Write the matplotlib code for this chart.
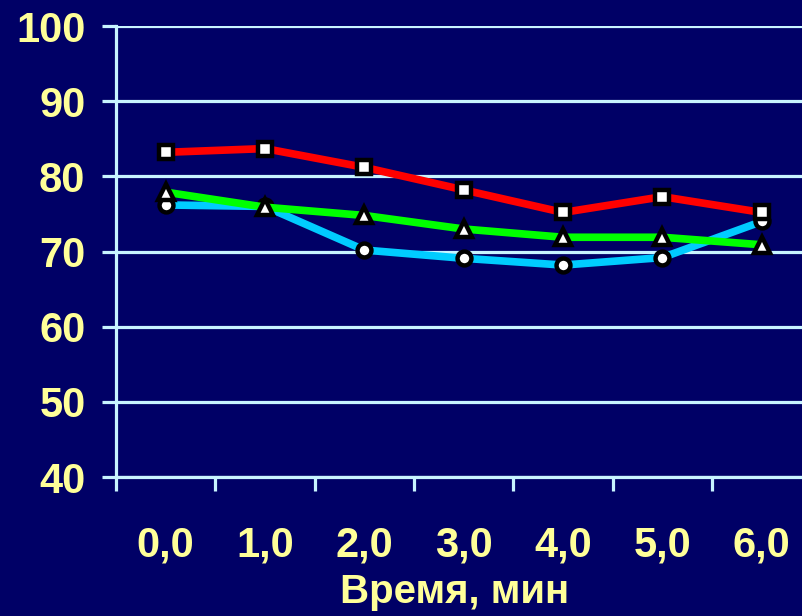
import matplotlib
matplotlib.use('Agg')
import matplotlib.pyplot as plt

# ── data ─────────────────────────────────────────────────────────────────────
categories = ['0,0', '1,0', '2,0', '3,0', '4,0', '5,0', '6,0']
red_vals   = [83.2, 83.7, 81.2, 78.2, 75.2, 77.3, 75.2]
green_vals = [77.9, 75.9, 74.8, 73.0, 71.9, 71.9, 70.9]
cyan_vals  = [76.2, 76.0, 70.2, 69.1, 68.2, 69.2, 74.0]
y_ticks    = [40, 50, 60, 70, 80, 90, 100]

# ── style ────────────────────────────────────────────────────────────────────
BG     = '#000066'
GRID   = '#c8f4ff'
LABEL  = '#ffff99'
plt.rcParams['font.family'] = ['Liberation Sans', 'DejaVu Sans']

fig = plt.figure(figsize=(8.03, 6.16), dpi=100, facecolor=BG)
ax = fig.add_axes([0.1445, 0.2256, 0.866, 0.7321], facecolor=BG)

x = list(range(len(categories)))
series = [
    (cyan_vals,  '#00ccff', 'o', 10),
    (green_vals, '#00ff00', '^', 12),
    (red_vals,   '#ff0000', 's', 10.5),
]
for vals, col, mk, ms in series:
    ax.plot(x, vals, color=col, lw=5.5, marker=mk, ms=ms,
            mfc='white', mec='black', mew=3.2, zorder=3, clip_on=False)

ax.set_xlim(-0.5, len(categories) - 0.5)
ax.set_ylim(40, 100)
ax.set_yticks(y_ticks)
ax.set_yticklabels([str(v) for v in y_ticks])
ax.yaxis.grid(True, color=GRID, lw=2.3)
ax.set_axisbelow(True)

# category labels in the middle, tick marks on the boundaries
ax.set_xticks([i - 0.5 for i in range(len(categories))])
ax.set_xticklabels([])
ax.set_xticks(x, minor=True)
ax.set_xticklabels(categories, minor=True)
ax.tick_params(axis='x', which='minor', length=0, pad=35,
               labelsize=30, labelcolor=LABEL)
ax.tick_params(axis='x', which='major', length=10, width=2.3,
               color=GRID, direction='out')
ax.tick_params(axis='y', length=10, width=2.3, color=GRID, pad=12,
               labelsize=30, labelcolor=LABEL)
for lab in ax.get_xticklabels(minor=True) + ax.get_yticklabels():
    lab.set_fontweight('bold')

for side in ['top', 'right']:
    ax.spines[side].set_visible(False)
for side in ['left', 'bottom']:
    ax.spines[side].set_color(GRID)
    ax.spines[side].set_linewidth(2.3)

fig.text(0.566, 0.008, 'Время, мин', ha='center', va='bottom',
         fontsize=29, fontweight='bold', color=LABEL)

fig.savefig('out.png', dpi=100, facecolor=BG)
